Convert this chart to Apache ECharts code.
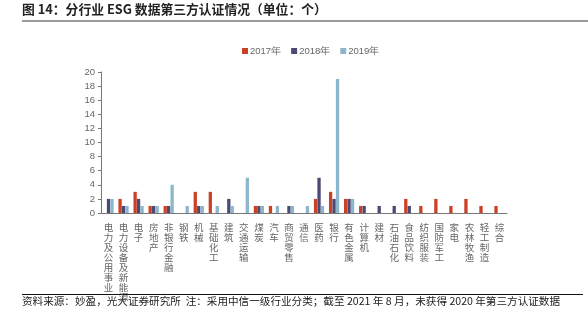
<!DOCTYPE html>
<html><head><meta charset="utf-8">
<script src="https://cdn.jsdelivr.net/npm/echarts@6/dist/echarts.min.js"></script>
<style>html,body{margin:0;padding:0;background:#fff}#c{width:588px;height:323px}</style>
</head><body><div id="c"></div>
<script>
const categories = ["电力及公用事业","电力设备及新能源","电子","房地产","非银行金融","钢铁","机械","基础化工","建筑","交通运输","煤炭","汽车","商贸零售","通信","医药","银行","有色金属","计算机","建材","石油石化","食品饮料","纺织服装","国防军工","家电","农林牧渔","轻工制造","综合"];
const s2017 = [0,2,3,1,1,0,3,3,0,0,1,1,0,0,2,3,2,1,0,0,2,1,2,1,2,1,1];
const s2018 = [2,1,2,1,1,0,1,0,2,0,1,0,1,0,5,2,2,1,1,1,1,0,0,0,0,0,0];
const s2019 = [2,1,1,1,4,1,1,1,1,5,1,1,1,1,1,19,2,0,0,0,0,0,0,0,0,0,0];
const seriesNames = ["2017年","2018年","2019年"];
const colors = ["#cc4125","#4b4a74","#8cb6cb"];
const title = "图 14：分行业 ESG 数据第三方认证情况（单位：个）";
const source = "资料来源：妙盈，光大证券研究所  注：采用中信一级行业分类；截至 2021 年 8 月，未获得 2020 年第三方认证数据";

const chart = echarts.init(document.getElementById('c'));
const font = '"Noto Sans CJK SC","Noto Sans",sans-serif';
chart.setOption({
  animation:false,
  textStyle:{fontFamily:font},
  graphic:[
    {type:'text',left:22,top:3,style:{text:title,font:'bold 12.8px '+font,fill:'#222'}},
    {type:'rect',shape:{x:22,y:20,width:566,height:2},style:{fill:'#9a9a9a'}},
    {type:'rect',shape:{x:22,y:294,width:561,height:1},style:{fill:'#111'}},
    {type:'text',left:22,top:296,style:{text:source,font:'10.6px '+font,fill:'#222'}}
  ],
  legend:{data:seriesNames,top:41,left:237,itemWidth:6,itemHeight:6,itemGap:10,icon:'rect',
    textStyle:{fontSize:9.5,color:'#666',fontFamily:'"Liberation Sans",Arial,sans-serif',padding:[0,0,0,-3]}},
  grid:{left:101,right:81,top:72,bottom:110},
  xAxis:{type:'category',data:categories,
    axisLine:{lineStyle:{color:'#777'}},
    axisTick:{inside:true,length:3,lineStyle:{color:'#999'}},
    axisLabel:{interval:0,color:'#666',fontSize:9.5,lineHeight:10,margin:9,verticalAlign:'top',
      formatter:v=>v.split('').join('\n')}},
  yAxis:{type:'value',min:0,max:20,interval:2,
    axisLine:{show:true,lineStyle:{color:'#777'}},
    axisTick:{show:true,length:3,lineStyle:{color:'#777'}},
    splitLine:{show:false},
    axisLabel:{color:'#666',fontSize:9.5,margin:6,fontFamily:'"Liberation Sans",Arial,sans-serif'}},
  series:seriesNames.map((n,i)=>({name:n,type:'bar',data:[s2017,s2018,s2019][i],
    itemStyle:{color:colors[i]},barWidth:3.3,barGap:'5%',barCategoryGap:'20%'}))
});
</script></body></html>
